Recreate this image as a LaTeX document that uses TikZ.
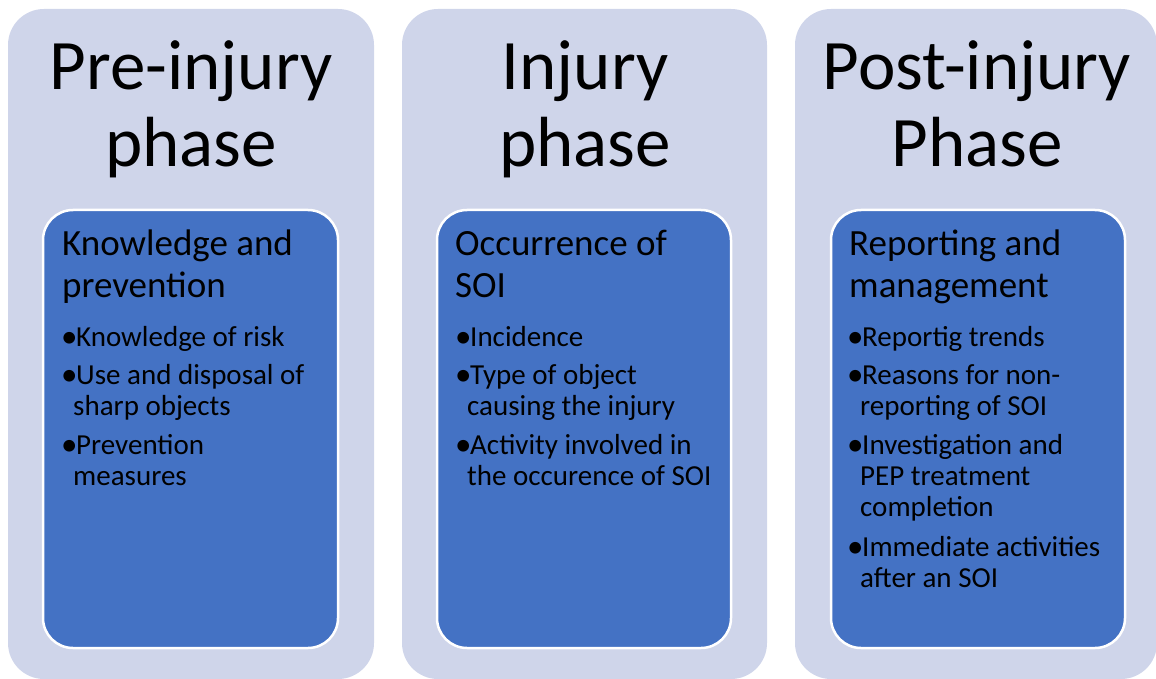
\documentclass[tikz,border=0pt]{standalone}
\usepackage{fontspec}
\setmainfont{Carlito}
\begin{document}
\begin{tikzpicture}[x=1pt,y=-1pt,
  phasebox/.style={fill=lavender,draw=none,rounded corners=36pt},
  topicbox/.style={fill=topicblue,draw=white,line width=2.5pt,rounded corners=30pt},
  phasetitle/.style={anchor=base,inner sep=0pt,font=\fontsize{71}{77}\selectfont},
  topic/.style={anchor=base west,inner sep=0pt,font=\fontsize{37}{42}\selectfont},
  dot/.style={anchor=base west,inner sep=0pt,yshift=-1pt,font=\fontsize{33}{31}\selectfont},
  itemline/.style={anchor=base west,inner sep=0pt,font=\fontsize{29}{31}\selectfont}]
\definecolor{lavender}{HTML}{CFD5EA}
\definecolor{topicblue}{HTML}{4472C4}
\useasboundingbox (0,0) rectangle (1156,679);

% phase columns
\path[phasebox] (8,9) rectangle (374,679);
\path[phasebox] (402,9) rectangle (767,679);
\path[phasebox] (795,9) rectangle (1157,679);

% topic panels
\path[topicbox] (43,210) rectangle (338,648);
\path[topicbox] (437,210) rectangle (731,648);
\path[topicbox] (831,210) rectangle (1125,648);

% column 1
\node[phasetitle] (p1a) at (191,90) {Pre-injury};
\node[phasetitle] (p1b) at (191,167) {phase};
\node[topic] (h1a) at (62,255) {Knowledge and};
\node[topic] (h1b) at (62,297) {prevention};
\node[dot] (d1a) at (61,346) {•};
\node[itemline] (i1a) at (76,346) {Knowledge of risk};
\node[dot] (d1b) at (61,384) {•};
\node[itemline] (i1b) at (76,384) {Use and disposal of};
\node[itemline] (i1c) at (73,415) {sharp objects};
\node[dot] (d1c) at (61,454) {•};
\node[itemline] (i1d) at (76,454) {Prevention};
\node[itemline] (i1e) at (73,485) {measures};

% column 2
\node[phasetitle] (p2a) at (585,90) {Injury};
\node[phasetitle] (p2b) at (585,167) {phase};
\node[topic] (h2a) at (455,255) {Occurrence of};
\node[topic] (h2b) at (455,297) {SOI};
\node[dot] (d2a) at (455,346) {•};
\node[itemline] (i2a) at (470,346) {Incidence};
\node[dot] (d2b) at (455,384) {•};
\node[itemline] (i2b) at (470,384) {Type of object};
\node[itemline] (i2c) at (467,415) {causing the injury};
\node[dot] (d2c) at (455,454) {•};
\node[itemline] (i2d) at (470,454) {Activity involved in};
\node[itemline] (i2e) at (467,485) {the occurence of SOI};

% column 3
\node[phasetitle] (p3a) at (977,90) {Post-injury};
\node[phasetitle] (p3b) at (977,167) {Phase};
\node[topic] (h3a) at (849,255) {Reporting and};
\node[topic] (h3b) at (849,297) {management};
\node[dot] (d3a) at (847,346) {•};
\node[itemline] (i3a) at (862,346) {Reportig trends};
\node[dot] (d3b) at (847,384) {•};
\node[itemline] (i3b) at (862,384) {Reasons for non-};
\node[itemline] (i3c) at (860,415) {reporting of SOI};
\node[dot] (d3c) at (847,454) {•};
\node[itemline] (i3d) at (862,454) {Investigation and};
\node[itemline] (i3e) at (860,485) {PEP treatment};
\node[itemline] (i3f) at (860,516) {completion};
\node[dot] (d3d) at (847,556) {•};
\node[itemline] (i3g) at (862,556) {Immediate activities};
\node[itemline] (i3h) at (860,587) {after an SOI};
\end{tikzpicture}
\end{document}
